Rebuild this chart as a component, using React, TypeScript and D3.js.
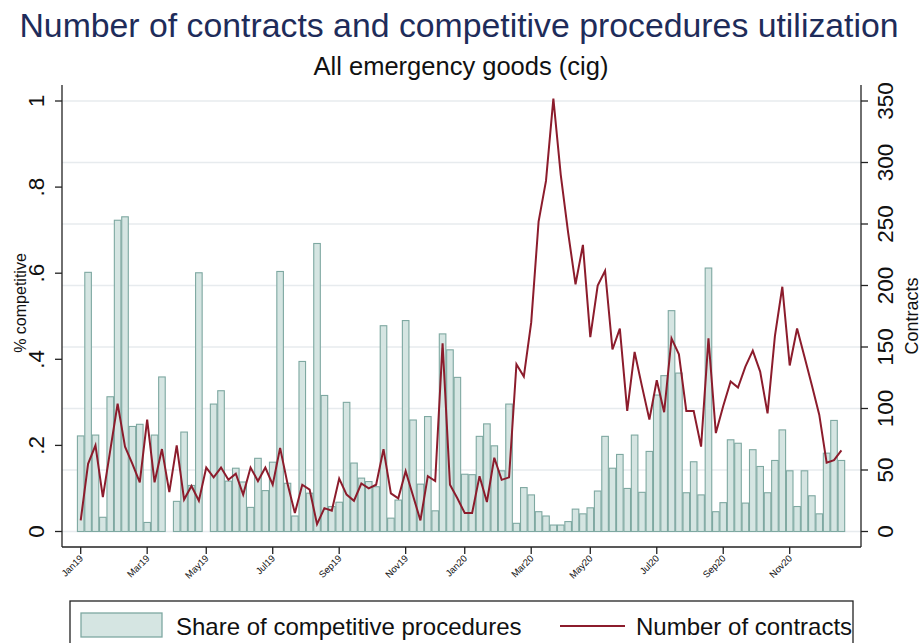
import React from "react";
import * as d3 from "d3";

// Weekly series, 2019w1 .. 2020w52 (104 weeks)
const shareCompetitive: (number | null)[] = [
  0.222, 0.602, 0.224, 0.033, 0.313, 0.723, 0.731, 0.244, 0.249, 0.021,
  0.224, 0.359, null, 0.070, 0.231, 0.107, 0.601, null, 0.296, 0.327,
  0.117, 0.147, 0.115, 0.056, 0.170, 0.095, 0.161, 0.604, 0.112, 0.036,
  0.395, 0.089, 0.669, 0.316, 0.058, 0.068, 0.300, 0.159, 0.124, 0.116,
  0.104, 0.478, 0.031, 0.073, 0.490, 0.259, 0.110, 0.267, 0.048, 0.459,
  0.422, 0.358, 0.133, 0.132, 0.221, 0.250, 0.199, 0.141, 0.296, 0.019,
  0.102, 0.085, 0.046, 0.036, 0.015, 0.015, 0.023, 0.052, 0.041, 0.055,
  0.094, 0.221, 0.147, 0.179, 0.100, 0.224, 0.091, 0.186, 0.317, 0.362,
  0.513, 0.368, 0.090, 0.162, 0.085, 0.612, 0.046, 0.067, 0.213, 0.205,
  0.066, 0.190, 0.151, 0.090, 0.165, 0.236, 0.141, 0.058, 0.141, 0.083,
  0.041, 0.182, 0.258, 0.165,
];

const contracts: number[] = [
  9, 55, 70, 28, 66, 104, 69, 55, 40, 91,
  40, 67, 32, 70, 26, 37, 25, 52, 44, 52,
  42, 47, 30, 52, 41, 52, 38, 68, 39, 15,
  38, 34, 6, 19, 17, 43, 30, 25, 39, 35,
  38, 67, 31, 27, 49, 29, 9, 45, 41, 153,
  38, 27, 15, 15, 45, 24, 60, 42, 44, 136,
  126, 170, 252, 285, 352, 290, 243, 201, 233, 158,
  200, 212, 148, 165, 98, 146, 118, 91, 123, 97,
  157, 144, 98, 98, 69, 157, 80, 102, 122, 117,
  134, 147, 130, 96, 159, 199, 135, 165, 142, 119,
  95, 56, 58, 66,
];

const tickWeeks = [0, 9, 17, 26, 35, 44, 52, 61, 69, 78, 87, 96];
const tickLabels = [
  "Jan19", "Mar19", "May19", "Jul19", "Sep19", "Nov19",
  "Jan20", "Mar20", "May20", "Jul20", "Sep20", "Nov20",
];
const leftTicks = [0, 0.2, 0.4, 0.6, 0.8, 1];
const leftTickLabels = ["0", ".2", ".4", ".6", ".8", "1"];
const rightTicks = [0, 50, 100, 150, 200, 250, 300, 350];

const W = 923;
const H = 643;
const FONT = "'Liberation Sans', Arial, Helvetica, sans-serif";
const BAR_FILL = "#d5e5e2";
const BAR_STROKE = "#7ea8a1";
const LINE = "#8c1c2c";

export default function App() {
  const plotLeft = 62;
  const plotRight = 861;
  const plotTop = 85;
  const axisY = 547;

  const x = d3.scaleLinear().domain([0, 103]).range([80.7, 841.4]);
  const step = x(1) - x(0);
  const barW = step * 0.89;
  const yL = d3.scaleLinear().domain([0, 1]).range([531.5, 101]);
  const yR = d3.scaleLinear().domain([0, 350]).range([531.5, 101]);

  const linePath = d3
    .line<number>()
    .x((_, i) => x(i))
    .y((d) => yR(d))(contracts) as string;

  return (
    <svg
      width={W}
      height={H}
      style={{ position: "absolute", left: 0, top: 0, background: "#fff" }}
      fontFamily={FONT}
    >
      <rect x={0} y={0} width={W} height={H} fill="#fff" />

      {/* titles */}
      <text x={459} y={37} textAnchor="middle" fontSize={33.8} fill="#1e2c5a">
        Number of contracts and competitive procedures utilization
      </text>
      <text x={461} y={75} textAnchor="middle" fontSize={25.5} fill="#111">
        All emergency goods (cig)
      </text>

      {/* gridlines at the contracts scale */}
      {rightTicks.map((t) => (
        <line
          key={`g${t}`}
          x1={plotLeft}
          x2={plotRight}
          y1={yR(t)}
          y2={yR(t)}
          stroke="#e7ebee"
          strokeWidth={1.6}
        />
      ))}

      {/* bars: share of competitive procedures */}
      {shareCompetitive.map((v, i) =>
        v == null ? null : (
          <rect
            key={`b${i}`}
            x={x(i) - barW / 2}
            y={yL(v)}
            width={barW}
            height={yL(0) - yL(v)}
            fill={BAR_FILL}
            stroke={BAR_STROKE}
            strokeWidth={1.1}
          />
        )
      )}

      {/* line: number of contracts */}
      <path d={linePath} fill="none" stroke={LINE} strokeWidth={2} strokeLinejoin="miter" />

      {/* axes */}
      <line x1={plotLeft} x2={plotLeft} y1={plotTop} y2={axisY} stroke="#222" strokeWidth={1.3} />
      <line x1={plotRight} x2={plotRight} y1={plotTop} y2={axisY} stroke="#222" strokeWidth={1.3} />
      <line x1={plotLeft} x2={plotRight} y1={axisY} y2={axisY} stroke="#222" strokeWidth={1.3} />

      {/* left axis */}
      {leftTicks.map((t, k) => (
        <g key={`l${t}`}>
          <line x1={plotLeft - 7} x2={plotLeft} y1={yL(t)} y2={yL(t)} stroke="#222" strokeWidth={1.3} />
          <text
            transform={`translate(44,${yL(t)}) rotate(-90)`}
            textAnchor="middle"
            fontSize={22.5}
            fill="#111"
          >
            {leftTickLabels[k]}
          </text>
        </g>
      ))}
      <text
        transform={`translate(26,303) rotate(-90)`}
        textAnchor="middle"
        fontSize={16}
        fill="#111"
      >
        % competitive
      </text>

      {/* right axis */}
      {rightTicks.map((t) => (
        <g key={`r${t}`}>
          <line x1={plotRight} x2={plotRight + 7} y1={yR(t)} y2={yR(t)} stroke="#222" strokeWidth={1.3} />
          <text
            transform={`translate(893,${yR(t)}) rotate(-90)`}
            textAnchor="middle"
            fontSize={22.5}
            fill="#111"
          >
            {t}
          </text>
        </g>
      ))}
      <text
        transform={`translate(918,316) rotate(-90)`}
        textAnchor="middle"
        fontSize={18}
        fill="#111"
      >
        Contracts
      </text>

      {/* x axis */}
      {tickWeeks.map((w, k) => (
        <g key={`x${w}`}>
          <line x1={x(w)} x2={x(w)} y1={axisY} y2={axisY + 7} stroke="#222" strokeWidth={1.3} />
          <text
            transform={`translate(${x(w) + 3},${axisY + 12}) rotate(-45)`}
            textAnchor="end"
            fontSize={9.5}
            fill="#111"
          >
            {tickLabels[k]}
          </text>
        </g>
      ))}

      {/* legend */}
      <rect x={70} y={601} width={783} height={70} fill="#fff" stroke="#222" strokeWidth={1.3} />
      <rect x={81} y={613} width={81} height={24} fill={BAR_FILL} stroke={BAR_STROKE} strokeWidth={1.3} />
      <text x={176} y={635} fontSize={24} fill="#111">
        Share of competitive procedures
      </text>
      <line x1={560} x2={625} y1={626} y2={626} stroke={LINE} strokeWidth={2} />
      <text x={636} y={635} fontSize={24} fill="#111">
        Number of contracts
      </text>
    </svg>
  );
}
